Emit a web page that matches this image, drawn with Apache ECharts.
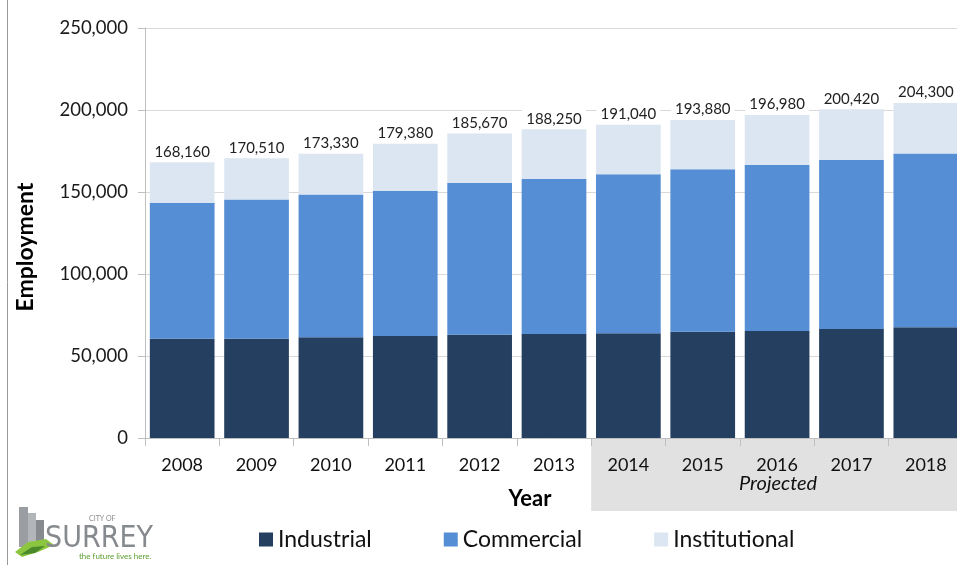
<!DOCTYPE html>
<html>
<head>
<meta charset="utf-8">
<script src="https://cdn.jsdelivr.net/npm/echarts@6/dist/echarts.min.js"></script>
<style>
  html, body { margin: 0; padding: 0; background: #fff; }
  #chart { width: 957px; height: 565px; }
</style>
</head>
<body>
<div id="chart"></div>
<script>
// data
const years = ['2008', '2009', '2010', '2011', '2012', '2013', '2014', '2015', '2016', '2017', '2018'];
const totals = [168160, 170510, 173330, 179380, 185670, 188250, 191040, 193880, 196980, 200420, 204300];
const industrial = [60500, 60500, 61400, 62200, 63000, 63400, 63800, 64800, 65200, 66500, 67500];
const commercial = [83000, 85000, 87000, 88600, 92500, 94500, 97000, 99000, 101300, 103200, 105900];
const institutional = totals.map((t, i) => t - industrial[i] - commercial[i]);
const projectedFrom = '2014';

const FONT = 'Lato, "Open Sans", sans-serif';
const fmt = v => v.toLocaleString('en-US');

const chart = echarts.init(document.getElementById('chart'));

const option = {
  animation: false,
  textStyle: { fontFamily: FONT },
  grid: { left: 145, width: 818, top: 28, bottom: 127, outerBoundsMode: 'none' },
  legend: {
    top: 528,
    left: 259,
    padding: 0,
    itemWidth: 14,
    itemHeight: 14,
    itemGap: 72,
    icon: 'rect',
    textStyle: { fontSize: 23, color: '#111', fontFamily: FONT },
    data: ['Industrial', 'Commercial', 'Institutional']
  },
  xAxis: {
    type: 'category',
    data: years,
    z: 10,
    axisLine: { lineStyle: { color: '#bfbfbf' } },
    axisTick: { show: true, length: 8, lineStyle: { color: '#bfbfbf' } },
    axisLabel: { fontSize: 18, color: '#111', margin: 18 },
    name: 'Year',
    nameLocation: 'middle',
    nameGap: 50,
    nameTextStyle: { fontSize: 22, fontWeight: 'bold', color: '#000', padding: [0, 48, 0, 0] }
  },
  yAxis: {
    type: 'value',
    min: 0,
    max: 250000,
    interval: 50000,
    axisLine: { show: true, lineStyle: { color: '#bfbfbf' } },
    axisTick: { show: true, length: 7, lineStyle: { color: '#bfbfbf' } },
    axisLabel: { fontSize: 18.5, color: '#1a1a1a', margin: 17, formatter: v => fmt(v) },
    splitLine: { lineStyle: { color: '#d9d9d9' } },
    name: 'Employment',
    nameLocation: 'middle',
    nameGap: 108,
    nameTextStyle: { fontSize: 23, fontWeight: 'bold', color: '#000', padding: [0, 28, 0, 0] }
  },
  series: [
    {
      name: 'Industrial', type: 'bar', stack: 'emp', barCategoryGap: '13%',
      itemStyle: { color: '#253f60' },
      data: industrial
    },
    {
      name: 'Commercial', type: 'bar', stack: 'emp',
      itemStyle: { color: '#558ed5' },
      data: commercial
    },
    {
      name: 'Institutional', type: 'bar', stack: 'emp',
      itemStyle: { color: '#dce6f2' },
      label: {
        show: true,
        position: 'top',
        distance: 3,
        fontSize: 15,
        color: '#222',
        backgroundColor: '#fff',
        padding: [2, 4, 0, 4],
        formatter: p => fmt(totals[p.dataIndex])
      },
      data: institutional
    }
  ]
};
chart.setOption(option);

// shaded "Projected" band under the axis, placed from the category scale
const x14 = chart.convertToPixel({ xAxisIndex: 0 }, projectedFrom);
const x15 = chart.convertToPixel({ xAxisIndex: 0 }, years[years.indexOf(projectedFrom) + 1]);
const bandLeft = x14 - (x15 - x14) / 2;
const axisY = chart.convertToPixel({ yAxisIndex: 0 }, 0);

chart.setOption({
  graphic: [
    {
      type: 'rect', z: -10,
      shape: { x: bandLeft, y: axisY + 1, width: 957 - bandLeft, height: 72 },
      style: { fill: '#e1e1e1' }
    },
    {
      type: 'text', z: 5,
      style: {
        x: (bandLeft + 957) / 2 + 4, y: axisY + 46, text: 'Projected',
        font: 'italic 20px ' + FONT, fill: '#111', textAlign: 'center', textVerticalAlign: 'middle'
      }
    },
    // frame line on the left
    { type: 'line', shape: { x1: 7.5, y1: 0, x2: 7.5, y2: 565 }, style: { stroke: '#9a9a9a', lineWidth: 1 } },
    // City of Surrey logo
    { type: 'rect', shape: { x: 19, y: 507, width: 9, height: 40 }, style: { fill: '#9a9ea3' } },
    { type: 'rect', shape: { x: 28, y: 513, width: 8, height: 34 }, style: { fill: '#b3b6b9' } },
    { type: 'rect', shape: { x: 36, y: 520, width: 8, height: 27 }, style: { fill: '#878b90' } },
    {
      type: 'polygon',
      shape: { points: [[15, 552], [28, 542], [46, 539], [54, 545], [38, 552], [22, 557]] },
      style: { fill: '#8cc63f' }
    },
    {
      type: 'polygon',
      shape: { points: [[20, 555], [32, 547], [45, 546], [35, 553]] },
      style: { fill: '#4a8a2a' }
    },
    {
      type: 'text',
      style: { x: 89, y: 515, text: 'CITY OF', font: '7px ' + FONT, fill: '#8a8a8a' }
    },
    {
      type: 'text',
      style: { x: 45, y: 524, text: 'SURREY', font: '30px "Liberation Sans Narrow", "DejaVu Sans Condensed", sans-serif', fill: '#868a8f' }
    },
    {
      type: 'text',
      style: { x: 79, y: 552, text: 'the future lives here.', font: '8px ' + FONT, fill: '#5a9e2f' }
    }
  ]
});
</script>
</body>
</html>
